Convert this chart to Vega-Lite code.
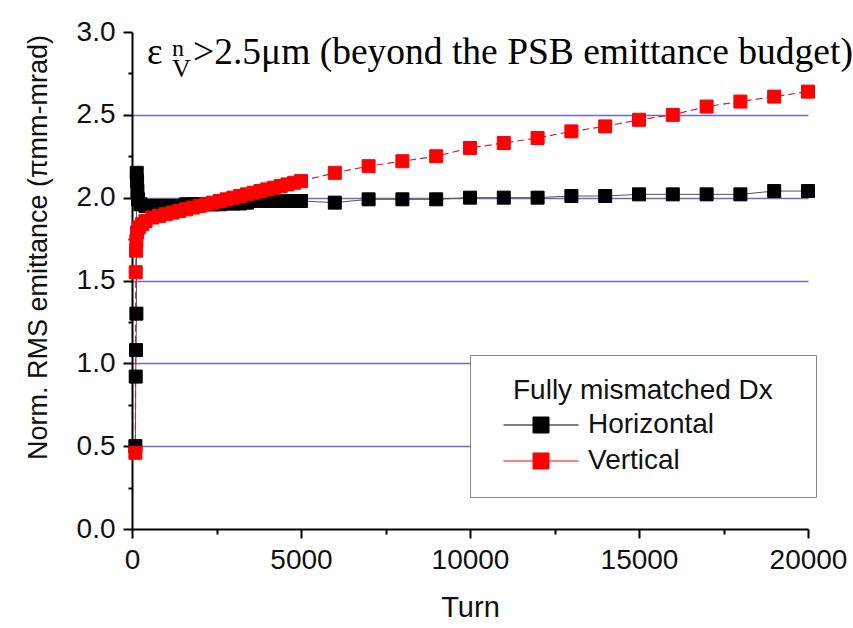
{
  "$schema": "https://vega.github.io/schema/vega-lite/v6.json",
  "width": 676,
  "height": 497,
  "autosize": {"type": "none"},
  "padding": {"left": 132, "top": 32, "right": 45, "bottom": 99},
  "background": "white",
  "config": {"view": {"stroke": null}},
  "datasets": {
    "series": [
      {"turn": 100, "value": 0.50, "series": "Horizontal"},
      {"turn": 110, "value": 0.92, "series": "Horizontal"},
      {"turn": 120, "value": 1.08, "series": "Horizontal"},
      {"turn": 130, "value": 1.30, "series": "Horizontal"},
      {"turn": 140, "value": 2.15, "series": "Horizontal"},
      {"turn": 150, "value": 2.10, "series": "Horizontal"},
      {"turn": 160, "value": 2.04, "series": "Horizontal"},
      {"turn": 180, "value": 1.99, "series": "Horizontal"},
      {"turn": 250, "value": 1.96, "series": "Horizontal"},
      {"turn": 400, "value": 1.95, "series": "Horizontal"},
      {"turn": 600, "value": 1.95, "series": "Horizontal"},
      {"turn": 800, "value": 1.95, "series": "Horizontal"},
      {"turn": 1000, "value": 1.95, "series": "Horizontal"},
      {"turn": 1200, "value": 1.95, "series": "Horizontal"},
      {"turn": 1400, "value": 1.95, "series": "Horizontal"},
      {"turn": 1600, "value": 1.96, "series": "Horizontal"},
      {"turn": 1800, "value": 1.96, "series": "Horizontal"},
      {"turn": 2000, "value": 1.96, "series": "Horizontal"},
      {"turn": 2200, "value": 1.96, "series": "Horizontal"},
      {"turn": 2400, "value": 1.96, "series": "Horizontal"},
      {"turn": 2600, "value": 1.96, "series": "Horizontal"},
      {"turn": 2800, "value": 1.965, "series": "Horizontal"},
      {"turn": 3000, "value": 1.965, "series": "Horizontal"},
      {"turn": 3200, "value": 1.965, "series": "Horizontal"},
      {"turn": 3400, "value": 1.97, "series": "Horizontal"},
      {"turn": 3600, "value": 1.98, "series": "Horizontal"},
      {"turn": 3800, "value": 1.98, "series": "Horizontal"},
      {"turn": 4000, "value": 1.98, "series": "Horizontal"},
      {"turn": 4200, "value": 1.98, "series": "Horizontal"},
      {"turn": 4400, "value": 1.98, "series": "Horizontal"},
      {"turn": 4600, "value": 1.98, "series": "Horizontal"},
      {"turn": 4800, "value": 1.98, "series": "Horizontal"},
      {"turn": 5000, "value": 1.98, "series": "Horizontal"},
      {"turn": 6000, "value": 1.97, "series": "Horizontal"},
      {"turn": 7000, "value": 1.99, "series": "Horizontal"},
      {"turn": 8000, "value": 1.99, "series": "Horizontal"},
      {"turn": 9000, "value": 1.99, "series": "Horizontal"},
      {"turn": 10000, "value": 2.00, "series": "Horizontal"},
      {"turn": 11000, "value": 2.00, "series": "Horizontal"},
      {"turn": 12000, "value": 2.00, "series": "Horizontal"},
      {"turn": 13000, "value": 2.01, "series": "Horizontal"},
      {"turn": 14000, "value": 2.01, "series": "Horizontal"},
      {"turn": 15000, "value": 2.02, "series": "Horizontal"},
      {"turn": 16000, "value": 2.02, "series": "Horizontal"},
      {"turn": 17000, "value": 2.02, "series": "Horizontal"},
      {"turn": 18000, "value": 2.02, "series": "Horizontal"},
      {"turn": 19000, "value": 2.04, "series": "Horizontal"},
      {"turn": 20000, "value": 2.04, "series": "Horizontal"},
      {"turn": 100, "value": 0.46, "series": "Vertical"},
      {"turn": 110, "value": 1.55, "series": "Vertical"},
      {"turn": 120, "value": 1.68, "series": "Vertical"},
      {"turn": 130, "value": 1.74, "series": "Vertical"},
      {"turn": 150, "value": 1.79, "series": "Vertical"},
      {"turn": 200, "value": 1.82, "series": "Vertical"},
      {"turn": 300, "value": 1.84, "series": "Vertical"},
      {"turn": 400, "value": 1.86, "series": "Vertical"},
      {"turn": 600, "value": 1.88, "series": "Vertical"},
      {"turn": 800, "value": 1.89, "series": "Vertical"},
      {"turn": 1000, "value": 1.90, "series": "Vertical"},
      {"turn": 1200, "value": 1.91, "series": "Vertical"},
      {"turn": 1400, "value": 1.92, "series": "Vertical"},
      {"turn": 1600, "value": 1.93, "series": "Vertical"},
      {"turn": 1800, "value": 1.94, "series": "Vertical"},
      {"turn": 2000, "value": 1.95, "series": "Vertical"},
      {"turn": 2200, "value": 1.96, "series": "Vertical"},
      {"turn": 2400, "value": 1.97, "series": "Vertical"},
      {"turn": 2600, "value": 1.98, "series": "Vertical"},
      {"turn": 2800, "value": 1.99, "series": "Vertical"},
      {"turn": 3000, "value": 2.00, "series": "Vertical"},
      {"turn": 3200, "value": 2.01, "series": "Vertical"},
      {"turn": 3400, "value": 2.02, "series": "Vertical"},
      {"turn": 3600, "value": 2.03, "series": "Vertical"},
      {"turn": 3800, "value": 2.04, "series": "Vertical"},
      {"turn": 4000, "value": 2.05, "series": "Vertical"},
      {"turn": 4200, "value": 2.06, "series": "Vertical"},
      {"turn": 4400, "value": 2.07, "series": "Vertical"},
      {"turn": 4600, "value": 2.08, "series": "Vertical"},
      {"turn": 4800, "value": 2.09, "series": "Vertical"},
      {"turn": 5000, "value": 2.10, "series": "Vertical"},
      {"turn": 6000, "value": 2.15, "series": "Vertical"},
      {"turn": 7000, "value": 2.19, "series": "Vertical"},
      {"turn": 8000, "value": 2.22, "series": "Vertical"},
      {"turn": 9000, "value": 2.25, "series": "Vertical"},
      {"turn": 10000, "value": 2.30, "series": "Vertical"},
      {"turn": 11000, "value": 2.33, "series": "Vertical"},
      {"turn": 12000, "value": 2.36, "series": "Vertical"},
      {"turn": 13000, "value": 2.40, "series": "Vertical"},
      {"turn": 14000, "value": 2.43, "series": "Vertical"},
      {"turn": 15000, "value": 2.47, "series": "Vertical"},
      {"turn": 16000, "value": 2.50, "series": "Vertical"},
      {"turn": 17000, "value": 2.55, "series": "Vertical"},
      {"turn": 18000, "value": 2.58, "series": "Vertical"},
      {"turn": 19000, "value": 2.61, "series": "Vertical"},
      {"turn": 20000, "value": 2.64, "series": "Vertical"}
    ]
  },
  "layer": [
    {
      "data": {"name": "series"},
      "transform": [{"filter": "datum.series === 'Horizontal'"}],
      "mark": {"type": "line", "color": "#555555", "strokeWidth": 1},
      "encoding": {
        "x": {
          "field": "turn", "type": "quantitative",
          "scale": {"domain": [0, 20000], "nice": false, "zero": false},
          "axis": {
            "values": [0, 2500, 5000, 7500, 10000, 12500, 15000, 17500, 20000],
            "format": "d",
            "labelExpr": "datum.value % 5000 === 0 ? datum.label : ''",
            "grid": false,
            "domainColor": "#000000", "domainWidth": 2,
            "tickColor": "#000000", "tickWidth": 2,
            "tickSize": {"condition": {"test": "datum.value % 5000 === 0", "value": 9}, "value": 5},
            "labelFont": "Liberation Sans", "labelFontSize": 28, "labelColor": "#111111",
            "labelPadding": 8, "labelFlush": false, "labelOverlap": false,
            "title": "Turn", "titleFont": "Liberation Sans", "titleFontSize": 29,
            "titleFontWeight": "normal", "titleColor": "#111111",
            "titleY": 87, "titleBaseline": "alphabetic"
          }
        },
        "y": {
          "field": "value", "type": "quantitative",
          "scale": {"domain": [0, 3], "nice": false},
          "axis": {
            "values": [0, 0.25, 0.5, 0.75, 1, 1.25, 1.5, 1.75, 2, 2.25, 2.5, 2.75, 3],
            "labelExpr": "datum.value % 0.5 === 0 ? format(datum.value, '.1f') : ''",
            "grid": true,
            "gridColor": "#6a6acd", "gridWidth": 1.5,
            "gridOpacity": {"condition": {"test": "datum.value % 0.5 === 0 && datum.value > 0 && datum.value < 3", "value": 1}, "value": 0},
            "domainColor": "#000000", "domainWidth": 2,
            "tickColor": "#000000", "tickWidth": 2,
            "tickSize": {"condition": {"test": "datum.value % 0.5 === 0", "value": 9}, "value": 4},
            "labelFont": "Liberation Sans", "labelFontSize": 28, "labelColor": "#111111",
            "labelPadding": 8, "labelFlush": false, "labelOverlap": false,
            "title": "Norm. RMS emittance (πmm-mrad)", "titleFont": "Liberation Sans",
            "titleFontSize": 27, "titleFontWeight": "normal", "titleColor": "#111111",
            "titleX": -94, "titleY": 215, "titleAngle": -90, "titleAlign": "center", "titleBaseline": "middle"
          }
        },
        "order": {"field": "turn", "type": "quantitative"}
      }
    },
    {
      "data": {"name": "series"},
      "transform": [{"filter": "datum.series === 'Vertical'"}],
      "mark": {"type": "line", "color": "#d0203c", "strokeWidth": 1.2, "strokeDash": [7, 4]},
      "encoding": {
        "x": {"field": "turn", "type": "quantitative"},
        "y": {"field": "value", "type": "quantitative"},
        "order": {"field": "turn", "type": "quantitative"}
      }
    },
    {
      "data": {"name": "series"},
      "mark": {"type": "point", "shape": "square", "filled": true, "size": 169, "strokeWidth": 1, "opacity": 1},
      "encoding": {
        "x": {"field": "turn", "type": "quantitative"},
        "y": {"field": "value", "type": "quantitative"},
        "stroke": {
          "field": "series", "type": "nominal",
          "scale": {"domain": ["Horizontal", "Vertical"], "range": ["#000000", "#ff0000"]},
          "legend": {
            "orient": "none", "legendX": 338, "legendY": 323,
            "title": "\u2800Fully mismatched Dx\u2800", "titleLimit": 500,
            "titleFont": "Liberation Sans", "titleFontSize": 28, "titleFontWeight": "normal",
            "titleColor": "#111111", "titlePadding": 6,
            "labelFont": "Liberation Sans", "labelFontSize": 28, "labelColor": "#111111",
            "labelOffset": 33, "symbolOffset": 35,
            "symbolType": "M-4.69,0H4.69M-1,-1H1V1H-1Z",
            "symbolSize": 256, "symbolStrokeWidth": 1,
            "rowPadding": 8, "padding": 22,
            "strokeColor": "#888888", "fillColor": "#ffffff"
          }
        },
        "fill": {
          "field": "series", "type": "nominal",
          "scale": {"domain": ["Horizontal", "Vertical"], "range": ["#000000", "#ff0000"]},
          "legend": {
            "orient": "none", "legendX": 338, "legendY": 323,
            "title": "\u2800Fully mismatched Dx\u2800", "titleLimit": 500,
            "titleFont": "Liberation Sans", "titleFontSize": 28, "titleFontWeight": "normal",
            "titleColor": "#111111", "titlePadding": 6,
            "labelFont": "Liberation Sans", "labelFontSize": 28, "labelColor": "#111111",
            "labelOffset": 33, "symbolOffset": 35,
            "symbolType": "M-4.69,0H4.69M-1,-1H1V1H-1Z",
            "symbolSize": 256, "symbolStrokeWidth": 1,
            "rowPadding": 8, "padding": 22,
            "strokeColor": "#888888", "fillColor": "#ffffff"
          }
        }
      }
    },
    {
      "data": {"values": [{"turn": 444, "value": 2.807, "label": "ε"}]},
      "mark": {"type": "text", "font": "Liberation Serif", "fontSize": 37, "align": "left", "baseline": "alphabetic", "color": "#000000"},
      "encoding": {"x": {"field": "turn", "type": "quantitative"}, "y": {"field": "value", "type": "quantitative"}, "text": {"field": "label"}}
    },
    {
      "data": {"values": [{"turn": 1183, "value": 2.855, "label": "n"}]},
      "mark": {"type": "text", "font": "Liberation Serif", "fontSize": 24, "align": "left", "baseline": "alphabetic", "color": "#000000"},
      "encoding": {"x": {"field": "turn", "type": "quantitative"}, "y": {"field": "value", "type": "quantitative"}, "text": {"field": "label"}}
    },
    {
      "data": {"values": [{"turn": 1183, "value": 2.728, "label": "V"}]},
      "mark": {"type": "text", "font": "Liberation Serif", "fontSize": 26, "align": "left", "baseline": "alphabetic", "color": "#000000"},
      "encoding": {"x": {"field": "turn", "type": "quantitative"}, "y": {"field": "value", "type": "quantitative"}, "text": {"field": "label"}}
    },
    {
      "data": {"values": [{"turn": 1805, "value": 2.807, "label": ">2.5μm (beyond the PSB emittance budget)"}]},
      "mark": {"type": "text", "font": "Liberation Serif", "fontSize": 37.5, "align": "left", "baseline": "alphabetic", "color": "#000000"},
      "encoding": {"x": {"field": "turn", "type": "quantitative"}, "y": {"field": "value", "type": "quantitative"}, "text": {"field": "label"}}
    }
  ]
}
